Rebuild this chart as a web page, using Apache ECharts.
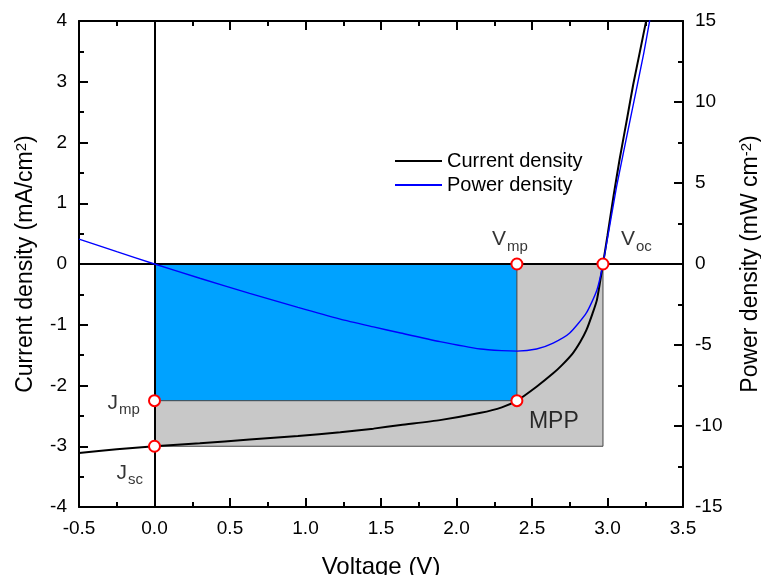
<!DOCTYPE html>
<html>
<head>
<meta charset="utf-8">
<script src="https://cdn.jsdelivr.net/npm/echarts@6/dist/echarts.min.js"></script>
<style>
  html, body { margin: 0; padding: 0; background: #fff; }
  #chart { width: 761px; height: 575px; }
</style>
</head>
<body>
<div id="chart"></div>
<script>
// J-V curve (left axis, mA/cm2)
const voltage = [-0.5, -0.25, 0, 0.3, 0.63, 0.95, 1.23, 1.45, 1.63, 1.89, 2.16, 2.3, 2.4, 2.53, 2.64, 2.7, 2.77, 2.82, 2.86, 2.9, 2.93, 2.97, 3.0, 3.04, 3.08, 3.13, 3.17, 3.215, 3.26];
const current = [-3.11, -3.05, -3.0, -2.95, -2.89, -2.83, -2.77, -2.71, -2.65, -2.57, -2.45, -2.36, -2.25, -2.02, -1.8, -1.66, -1.47, -1.28, -1.09, -0.82, -0.59, 0, 0.47, 1.12, 1.72, 2.4, 2.95, 3.5, 4.05];

// P-V curve (right axis, mW/cm2)
const powerV = [-0.5, -0.25, 0, 0.3, 0.63, 0.95, 1.23, 1.45, 1.63, 1.89, 2.16, 2.3, 2.4, 2.53, 2.64, 2.75, 2.86, 2.93, 2.97, 3.06, 3.15, 3.24, 3.28];
const power = [1.54, 0.76, 0, -0.88, -1.81, -2.68, -3.4, -3.88, -4.26, -4.79, -5.25, -5.35, -5.38, -5.25, -4.88, -4.26, -3.02, -1.6, 0, 4.77, 8.89, 13.0, 15.06];

// characteristic points
const Vmp = 2.4, Jmp = -2.25, Voc = 2.97, Jsc = -3.0;
const seriesNames = ['Current density', 'Power density'];

const FONT = 'Liberation Sans, Arial, sans-serif';
const chart = echarts.init(document.getElementById('chart'));

const jv = voltage.map((v, i) => [v, current[i]]);
const pv = powerV.map((v, i) => [v, power[i]]);

function rectItem(color, border) {
    return function (params, api) {
        const p0 = api.coord([api.value(0), api.value(1)]);
        const p1 = api.coord([api.value(2), api.value(3)]);
        return {
            type: 'rect',
            shape: { x: p0[0], y: p0[1], width: p1[0] - p0[0], height: p1[1] - p0[1] },
            style: { fill: color, stroke: border, lineWidth: 1 }
        };
    };
}

function sub(main, s) {
    return '{m|' + main + '}{s|' + s + '}';
}
const subRich = {
    m: { fontSize: 21, fontFamily: FONT, color: '#000', verticalAlign: 'top' },
    s: { fontSize: 15, fontFamily: FONT, color: '#000', verticalAlign: 'bottom', padding: [10, 0, 0, 1] }
};

// fresh option objects for every axis; negative tick length turns ticks into the plot
function axis(extra) {
    return Object.assign({
        type: 'value',
        axisLine: { show: true, onZero: false, lineStyle: { color: '#000', width: 2 } },
        axisTick: { show: true, inside: false, length: -9, lineStyle: { color: '#000', width: 2 } },
        minorTick: { show: true, splitNumber: 2, length: -5, lineStyle: { color: '#000', width: 2 } },
        splitLine: { show: false },
        axisLabel: { color: '#000', fontSize: 19, fontFamily: FONT, margin: 12 }
    }, extra);
}

function supRich() {
    return {
        t: { fontSize: 23, fontFamily: FONT, color: '#000' },
        p: { fontSize: 15, fontFamily: FONT, color: '#000', verticalAlign: 'top', padding: [0, 0, 8, 0] }
    };
}

chart.setOption({
    animation: false,
    backgroundColor: '#fff',
    grid: { left: 79, right: 78, top: 21, bottom: 68, outerBoundsMode: 'none', containLabel: false },
    legend: {
        data: seriesNames.map(n => ({ name: n, icon: 'rect' })),
        orient: 'vertical',
        left: 395,
        top: 151,
        padding: 0,
        itemWidth: 47,
        itemHeight: 2,
        itemGap: 4,
        textStyle: { fontSize: 20, fontFamily: FONT, color: '#000' }
    },
    xAxis: [
        axis({
            min: -0.5, max: 3.5, interval: 0.5, position: 'bottom',
            name: 'Voltage (V)', nameLocation: 'middle', nameGap: 48,
            nameTextStyle: { fontSize: 24, fontFamily: FONT, color: '#000' },
            axisLabel: { color: '#000', fontSize: 19, fontFamily: FONT, margin: 12, formatter: v => v.toFixed(1) }
        }),
        axis({
            min: -0.5, max: 3.5, interval: 0.5, position: 'top',
            axisLabel: { show: false }
        })
    ],
    yAxis: [
        axis({
            min: -4, max: 4, interval: 1, position: 'left',
            name: '{t|Current density (mA/cm}{p|2}{t|)}', nameLocation: 'middle', nameGap: 42, nameRotate: 90,
            nameTextStyle: { rich: supRich() }
        }),
        axis({
            min: -15, max: 15, interval: 5, position: 'right',
            name: '{t|Power density (mW cm}{p|-2}{t|)}', nameLocation: 'middle', nameGap: 56, nameRotate: 90,
            nameTextStyle: { rich: supRich() }
        })
    ],
    series: [
        {
            type: 'custom', name: 'Pmax total', silent: true, z: 1,
            renderItem: rectItem('#c8c8c8', '#444'),
            data: [[0, 0, Voc, Jsc]]
        },
        {
            type: 'custom', name: 'Pmax', silent: true, z: 2,
            renderItem: rectItem('#00a2ff', '#444'),
            data: [[0, 0, Vmp, Jmp]]
        },
        {
            name: seriesNames[0], type: 'line', z: 5,
            data: jv, symbol: 'none', smooth: 0.2,
            lineStyle: { color: '#000', width: 2 }, itemStyle: { color: '#000' },
            markLine: {
                silent: true, symbol: 'none', animation: false,
                lineStyle: { color: '#000', width: 2, type: 'solid' },
                label: { show: false },
                data: [{ xAxis: 0 }, { yAxis: 0 }]
            }
        },
        {
            name: seriesNames[1], type: 'line', yAxisIndex: 1, z: 5,
            data: pv, symbol: 'none', smooth: 0.2,
            lineStyle: { color: '#0000ff', width: 1.4 }, itemStyle: { color: '#0000ff' }
        },
        {
            type: 'scatter', z: 10, symbol: 'circle', symbolSize: 11,
            itemStyle: { color: '#fff', borderColor: '#ff0000', borderWidth: 2, opacity: 1 },
            data: [[0, Jmp], [0, Jsc], [Vmp, 0], [Vmp, Jmp], [Voc, 0]]
        },
        {
            type: 'scatter', z: 11, symbol: 'circle', symbolSize: 1, silent: true,
            itemStyle: { color: 'rgba(0,0,0,0)' },
            label: { show: true, position: 'inside', align: 'left', verticalAlign: 'top', rich: subRich },
            data: [
                { value: [Vmp, 0], label: { formatter: sub('V', 'mp'), offset: [-25, -35] } },
                { value: [Voc, 0], label: { formatter: sub('V', 'oc'), offset: [18, -35] } },
                { value: [0, Jmp], label: { formatter: sub('J', 'mp'), offset: [-47, -8] } },
                { value: [0, Jsc], label: { formatter: sub('J', 'sc'), offset: [-38, 16] } },
                { value: [Vmp, Jmp], label: { formatter: 'MPP', offset: [12, 9], fontSize: 23, fontFamily: FONT, color: '#000' } }
            ]
        }
    ]
});
</script>
</body>
</html>
